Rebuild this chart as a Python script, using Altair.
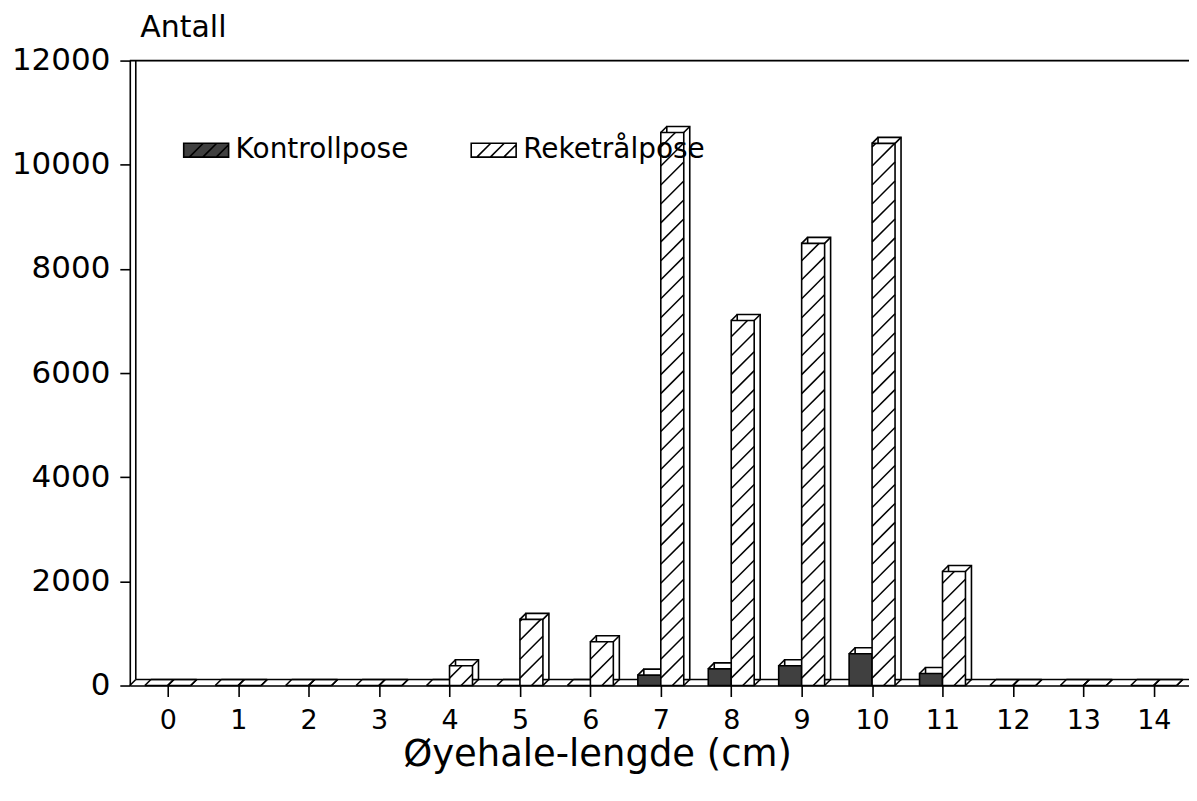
import altair as alt
import pandas as pd

# ---------------- data ----------------
categories = list(range(15))
kontrollpose = [0, 0, 0, 0, 0, 0, 0, 200, 320, 380, 610, 230, 0, 0, 0]
reketralpose = [0, 0, 0, 0, 380, 1270, 840, 10620, 7010, 8490, 10410, 2190, 0, 0, 0]
series_names = ["Kontrollpose", "Reketrålpose"]
y_ticks = [0, 2000, 4000, 6000, 8000, 10000, 12000]

# ---------------- layout ----------------
XMIN, XMAX = -0.54, 14.5
YMAX = 12000
W, H = 1061, 626
PX_X = W / (XMAX - XMIN)      # pixels per x unit
PX_Y = H / YMAX               # pixels per y unit
BW = 23 / PX_X                # bar width in x units
DEPTH = 6                     # pseudo-3D depth in px
FONT = "DejaVu Sans"
LW = 1.6

rows = []
for c, kv, rv in zip(categories, kontrollpose, reketralpose):
    rows.append(dict(cat=c, serie=series_names[0], value=kv, x0=c - BW, x1=c, zero=0))
    rows.append(dict(cat=c, serie=series_names[1], value=rv, x0=c, x1=c + BW, zero=0))
df = pd.DataFrame(rows)

# diagonal hatching of the Reketrålpose bars (45 degrees in screen space)
slope = PX_X / PX_Y           # y units per x unit
spacing = 19 / PX_Y
hatch = []
for _, r in df[(df.serie == series_names[1]) & (df.value > 0)].iterrows():
    x0, x1, v = r.x0, r.x1, r.value
    c = -slope * (x1 - x0) + spacing * 0.6
    while c < v:
        lo = max(x0, x0 + (0 - c) / slope)
        hi = min(x1, x0 + (v - c) / slope)
        if hi - lo > 1e-6:
            hatch.append(dict(hx=lo, hy=c + slope * (lo - x0),
                              hx2=hi, hy2=c + slope * (hi - x0)))
        c += spacing
hdf = pd.DataFrame(hatch)

xs = alt.Scale(domain=[XMIN, XMAX], nice=False, zero=False)
ys = alt.Scale(domain=[0, YMAX], nice=False)

xaxis = alt.Axis(values=categories, format="d", title="Øyehale-lengde (cm)",
                 grid=False, labelFontSize=27, labelFont=FONT, labelColor="black",
                 tickSize=11, tickWidth=LW, tickColor="black", labelPadding=11,
                 domainColor="black", domainWidth=LW,
                 titleFontSize=37, titleFont=FONT, titleFontWeight="normal",
                 titleColor="black", titleX=468, titleY=80, titleAlign="center",
                 titleBaseline="alphabetic")
yaxis = alt.Axis(values=y_ticks, format="d", title="Antall", grid=False,
                 labelFontSize=31, labelFont=FONT, labelColor="black",
                 tickSize=10, tickWidth=LW, tickColor="black", labelPadding=10,
                 domainColor="black", domainWidth=LW,
                 titleFontSize=30, titleFont=FONT, titleFontWeight="normal",
                 titleColor="black", titleAngle=0, titleX=10, titleY=-24,
                 titleAlign="left", titleBaseline="alphabetic")

X0 = alt.X("x0:Q", scale=xs, axis=xaxis)
X1 = alt.X("x1:Q", scale=xs, axis=xaxis)
YV = alt.Y("value:Q", scale=ys, axis=yaxis)
YZ = alt.Y("zero:Q", scale=ys, axis=yaxis)

base = alt.Chart(df)

back = base.mark_rect(fill="white", stroke="black", strokeWidth=LW,
                      xOffset=DEPTH, x2Offset=DEPTH,
                      yOffset=-DEPTH, y2Offset=-DEPTH).encode(
    x=X0, x2="x1:Q", y=YV, y2="zero:Q")

diag_tl = base.mark_rule(stroke="black", strokeWidth=LW, x2Offset=DEPTH, y2Offset=-DEPTH).encode(
    x=X0, x2="x0:Q", y=YV, y2="value:Q")
diag_tr = base.mark_rule(stroke="black", strokeWidth=LW, x2Offset=DEPTH, y2Offset=-DEPTH).encode(
    x=X1, x2="x1:Q", y=YV, y2="value:Q")
diag_br = base.mark_rule(stroke="black", strokeWidth=LW, x2Offset=DEPTH, y2Offset=-DEPTH).encode(
    x=X1, x2="x1:Q", y=YZ, y2="zero:Q")

legend_path = ("M-1,-0.31H1V0.31H-1Z "
               "M-0.75,0.31L-0.13,-0.31 M-0.15,0.31L0.47,-0.31 M0.45,0.31L1,-0.24")

front = base.mark_rect(stroke="black", strokeWidth=LW).encode(
    x=X0, x2="x1:Q", y=YV, y2="zero:Q",
    color=alt.Color("serie:N",
                    scale=alt.Scale(domain=series_names, range=["#404040", "white"]),
                    legend=alt.Legend(orient="none", legendX=53, legendY=66,
                                      direction="horizontal", title=None,
                                      symbolType=legend_path, symbolSize=2025,
                                      symbolStrokeColor="black", symbolStrokeWidth=LW,
                                      symbolOpacity=1,
                                      labelFontSize=28, labelFont=FONT,
                                      labelColor="black", labelOffset=6,
                                      labelLimit=300,
                                      columnPadding=58)))

hatch_layer = alt.Chart(hdf).mark_rule(stroke="black", strokeWidth=1.5).encode(
    x=alt.X("hx:Q", scale=xs, axis=xaxis), x2="hx2:Q",
    y=alt.Y("hy:Q", scale=ys, axis=yaxis), y2="hy2:Q")

one = alt.Chart(pd.DataFrame({"a": [0]}))
top_line = one.mark_rule(stroke="black", strokeWidth=LW).encode(
    y=alt.Y(datum=YMAX, scale=ys, axis=yaxis))
wall = one.mark_rule(stroke="black", strokeWidth=LW, xOffset=DEPTH, x2Offset=DEPTH,
                     yOffset=-DEPTH).encode(
    x=alt.X(datum=XMIN, scale=xs, axis=xaxis), y=alt.Y(datum=0, scale=ys, axis=yaxis),
    y2=alt.datum(YMAX))
floor_back = one.mark_rule(stroke="black", strokeWidth=LW, xOffset=DEPTH,
                           yOffset=-DEPTH, y2Offset=-DEPTH).encode(
    x=alt.X(datum=XMIN, scale=xs, axis=xaxis), x2=alt.datum(XMAX),
    y=alt.Y(datum=0, scale=ys, axis=yaxis), y2=alt.datum(0))
corner = one.mark_rule(stroke="black", strokeWidth=LW, x2Offset=DEPTH,
                       y2Offset=-DEPTH).encode(
    x=alt.X(datum=XMIN, scale=xs, axis=xaxis), x2=alt.datum(XMIN),
    y=alt.Y(datum=0, scale=ys, axis=yaxis), y2=alt.datum(0))

chart = alt.layer(
    wall, floor_back, corner, top_line,
    back, diag_tl, diag_tr, diag_br, front, hatch_layer
).properties(
    width=W, height=H,
    autosize=alt.AutoSizeParams(type="none"),
    padding={"left": 122, "top": 52, "right": 0, "bottom": 110},
).configure_view(stroke=None).configure(background="white")

chart.save("out.html", embed_options={"renderer": "svg", "actions": False})
